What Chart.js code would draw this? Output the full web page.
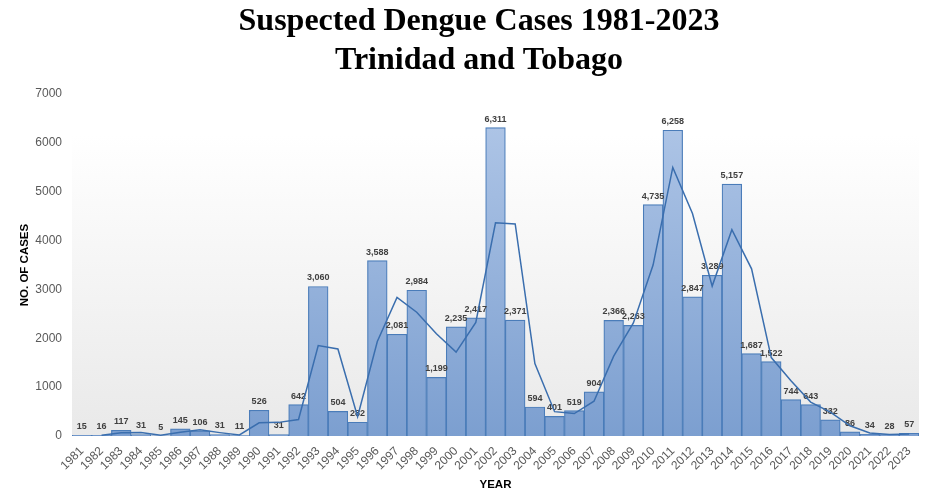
<!DOCTYPE html>
<html>
<head>
<meta charset="utf-8">
<script src="https://cdn.jsdelivr.net/npm/chart.js@4.4.1/dist/chart.umd.min.js"></script>
<style>
  html, body { margin: 0; padding: 0; background: #ffffff; }
  #wrap { width: 944px; height: 496px; position: relative; }
</style>
</head>
<body>
<div id="wrap"><canvas id="c" width="944" height="496"></canvas></div>
<script>
// ---- Data ----
const years = ['1981','1982','1983','1984','1985','1986','1987','1988','1989','1990',
  '1991','1992','1993','1994','1995','1996','1997','1998','1999','2000',
  '2001','2002','2003','2004','2005','2006','2007','2008','2009','2010',
  '2011','2012','2013','2014','2015','2016','2017','2018','2019','2020',
  '2021','2022','2023'];

const cases = [15, 16, 117, 31, 5, 145, 106, 31, 11, 526,
  31, 642, 3060, 504, 282, 3588, 2081, 2984, 1199, 2235,
  2417, 6311, 2371, 594, 401, 519, 904, 2366, 2263, 4735,
  6258, 2847, 3289, 5157, 1687, 1522, 744, 643, 332, 86,
  34, 28, 57];

// trend line
const trend = [null, 16, 67, 74, 18, 75, 126, 69, 21, 269,
  279, 337, 1851, 1782, 393, 1935, 2835, 2533, 2092, 1717,
  2326, 4364, 4341, 1483, 498, 460, 712, 1635, 2315, 3499,
  5497, 4553, 3068, 4223, 3422, 1605, 1133, 694, 488, 209,
  60, 31, 43];

const yTicks = [0, 1000, 2000, 3000, 4000, 5000, 6000, 7000];

const titleLines = ['Suspected Dengue Cases 1981-2023', 'Trinidad and Tobago'];
const xTitle = 'YEAR';
const yTitle = 'NO. OF CASES';

// ---- Plugins ----
const bgPlugin = {
  id: 'plotBg',
  beforeDraw(chart) {
    const { ctx, chartArea: a } = chart;
    const g = ctx.createLinearGradient(0, a.top, 0, a.bottom);
    g.addColorStop(0, '#ffffff');
    g.addColorStop(0.12, '#ffffff');
    g.addColorStop(1, '#e9e9e9');
    ctx.save();
    ctx.fillStyle = g;
    ctx.fillRect(a.left, a.top, a.right - a.left, a.bottom - a.top);
    ctx.restore();
  }
};

const titlePlugin = {
  id: 'bigTitle',
  afterDraw(chart) {
    const { ctx } = chart;
    ctx.save();
    ctx.font = 'bold 32px "Liberation Serif", "Times New Roman", serif';
    ctx.fillStyle = '#000000';
    ctx.textAlign = 'center';
    ctx.textBaseline = 'middle';
    ctx.fillText(titleLines[0], 479, 22);
    ctx.fillText(titleLines[1], 479, 61);
    ctx.restore();
  }
};

const labelPlugin = {
  id: 'barLabels',
  afterDatasetDraw(chart, args) {
    if (args.index !== 0) return;
    const { ctx } = chart;
    const meta = args.meta;
    ctx.save();
    ctx.font = 'bold 9px "Liberation Sans", Arial, sans-serif';
    ctx.fillStyle = '#404040';
    ctx.textAlign = 'center';
    ctx.textBaseline = 'bottom';
    meta.data.forEach((el, i) => {
      const v = cases[i];
      ctx.fillText(v.toLocaleString('en-US'), el.x, el.y - 4);
    });
    ctx.restore();
  }
};

const ctx = document.getElementById('c').getContext('2d');

function barGradient(context) {
  const chart = context.chart;
  const a = chart.chartArea;
  if (!a) return '#8eaedb';
  const g = chart.ctx.createLinearGradient(0, a.top, 0, a.bottom);
  g.addColorStop(0, '#b2c8e8');
  g.addColorStop(1, '#7c9fd0');
  return g;
}

new Chart(ctx, {
  data: {
    labels: years,
    datasets: [
      {
        type: 'bar',
        data: cases,
        backgroundColor: barGradient,
        borderColor: '#4a7cb9',
        borderWidth: 1.2,
        categoryPercentage: 1.0,
        barPercentage: 1.0,
        order: 1
      },
      {
        type: 'line',
        data: trend,
        borderColor: '#3a6eae',
        borderWidth: 1.5,
        pointRadius: 0,
        tension: 0,
        fill: false,
        spanGaps: false,
        order: 0
      }
    ]
  },
  options: {
    responsive: false,
    animation: false,
    devicePixelRatio: 1,
    layout: { padding: { left: 0, right: 25, top: 94, bottom: 0 } },
    plugins: {
      legend: { display: false },
      tooltip: { enabled: false },
      title: { display: false }
    },
    scales: {
      x: {
        grid: { display: false },
        border: { display: false },
        ticks: {
          color: '#595959',
          font: { family: '"Liberation Sans", Arial, sans-serif', size: 12 },
          minRotation: 45,
          maxRotation: 45,
          autoSkip: false,
          padding: 0
        },
        title: {
          display: true,
          text: xTitle,
          color: '#000000',
          font: { family: '"Liberation Sans", Arial, sans-serif', size: 11.5, weight: 'bold' },
          padding: { top: 0, bottom: 4 }
        },
        afterFit(scale) { scale.height = 60; }
      },
      y: {
        min: 0,
        max: 7000,
        afterBuildTicks(scale) { scale.ticks = yTicks.map(v => ({ value: v })); },
        grid: { display: false },
        border: { display: false },
        ticks: {
          color: '#595959',
          font: { family: '"Liberation Sans", Arial, sans-serif', size: 12 },
          padding: 2,
          callback: (v) => String(v)
        },
        title: {
          display: true,
          text: yTitle,
          color: '#000000',
          font: { family: '"Liberation Sans", Arial, sans-serif', size: 11.5, weight: 'bold' },
          padding: { top: 18, bottom: 0 }
        },
        afterFit(scale) { scale.width = 72; }
      }
    }
  },
  plugins: [bgPlugin, labelPlugin, titlePlugin]
});
</script>
</body>
</html>
